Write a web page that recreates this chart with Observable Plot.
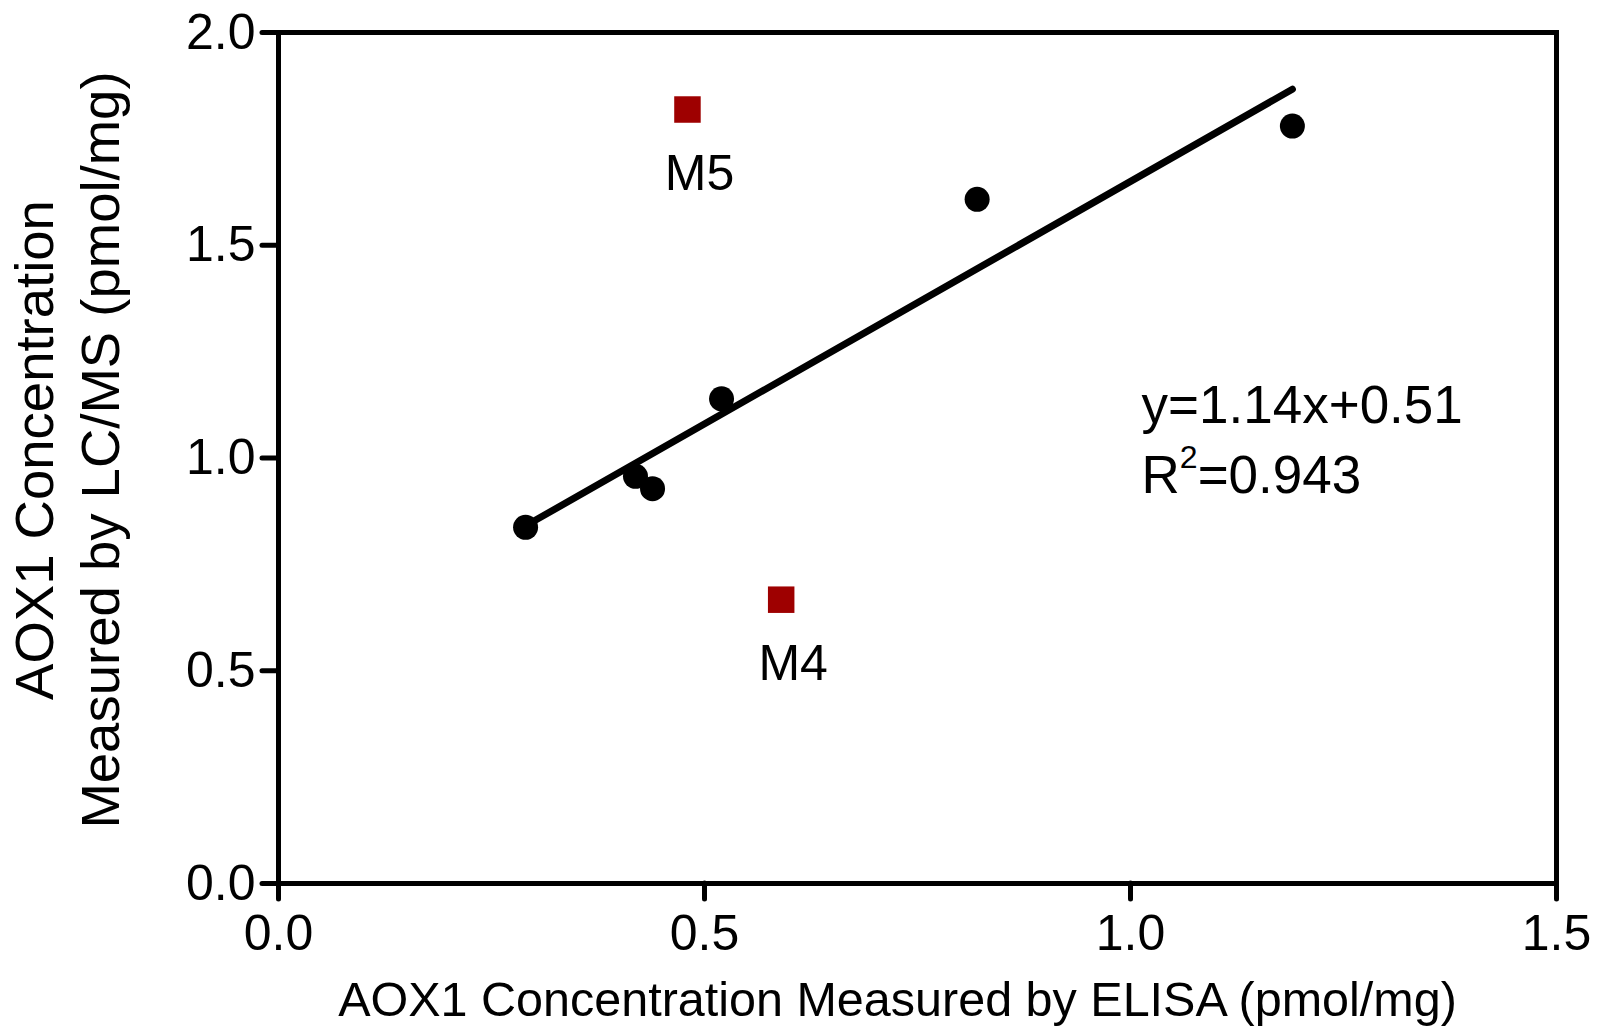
<!DOCTYPE html>
<html><head><meta charset="utf-8">
<script src="https://cdn.jsdelivr.net/npm/d3@7"></script>
<script src="https://cdn.jsdelivr.net/npm/@observablehq/plot@0.6"></script>
<style>
html,body{margin:0;padding:0;background:#fff;}
#chart svg{display:block;}
#chart text{font-family:"Liberation Sans",Arial,sans-serif;}
</style></head><body><div id="chart"></div>
<script>
// black points (ELISA vs LC/MS)
const elisa = [0.290, 0.419, 0.439, 0.520, 0.820, 1.190];
const lcms  = [0.837, 0.957, 0.928, 1.139, 1.608, 1.780];
// outlier samples (red squares)
const outlierNames = ["M5", "M4"];
const outlierElisa = [0.480, 0.590];
const outlierLcms  = [1.819, 0.667];
// ticks
const xTicks = [0, 0.5, 1.0, 1.5];
const yTicks = [0, 0.5, 1.0, 1.5, 2.0];
// texts
const xTitle = "AOX1 Concentration Measured by ELISA (pmol/mg)";
const yTitleLines = ["AOX1 Concentration", "Measured by LC/MS (pmol/mg)"];
const slope = 1.14, intercept = 0.51, r2 = 0.943;
const eqLines = ["y=1.14x+0.51", "R2=0.943"];
const eqX = 1.013, eqY = 1.083;

const pts = elisa.map((x, i) => ({x, y: lcms[i]}));
const outliers = outlierNames.map((name, i) => ({name, x: outlierElisa[i], y: outlierLcms[i]}));
const fitLine = d3.extent(elisa).map(x => ({x, y: slope * x + intercept}));

const plot = Plot.plot({
  width: 1598,
  height: 1029,
  marginLeft: 278,
  marginRight: 42,
  marginTop: 32,
  marginBottom: 146,
  style: {fontSize: "50px", fontFamily: "Liberation Sans, Arial, sans-serif", background: "#fff", overflow: "visible"},
  x: {domain: [0, 1.5]},
  y: {domain: [0, 2.0]},
  marks: [
    Plot.axisX({ticks: xTicks, tickFormat: d3.format(".1f"), tickSize: 16, tickPadding: 15, strokeWidth: 5, strokeLinecap: "round", label: null}),
    Plot.axisY({ticks: yTicks, tickFormat: d3.format(".1f"), tickSize: 16, tickPadding: 7, strokeWidth: 5, strokeLinecap: "round", label: null}),
    Plot.frame({stroke: "black", strokeWidth: 5}),
    Plot.line(fitLine, {x: "x", y: "y", stroke: "black", strokeWidth: 7, strokeLinecap: "round"}),
    Plot.dot(pts, {x: "x", y: "y", r: 12.5, fill: "black", stroke: "none"}),
    Plot.dot(outliers, {x: "x", y: "y", symbol: "square", r: 14.95, fill: "#9e0000", stroke: "none"}),
    Plot.text(outliers, {x: "x", y: "y", text: "name", dx: 12, dy: 80, lineAnchor: "bottom", fontSize: 50, fill: "black"}),
    Plot.text([eqLines[0]], {x: () => eqX, y: () => eqY, text: d => d, textAnchor: "start", lineAnchor: "bottom", fontSize: 53, fill: "black"}),
    Plot.text([eqLines[1]], {x: () => eqX, y: () => eqY, text: d => d, textAnchor: "start", lineAnchor: "bottom", dy: 70, fontSize: 53, fill: "black"}),
    Plot.text([xTitle], {frameAnchor: "bottom", text: d => d, dx: -20, dy: 132, lineAnchor: "bottom", fontSize: 48.5, fill: "black"}),
    Plot.text([yTitleLines.join("\n")], {frameAnchor: "left", text: d => d, rotate: -90, dx: -214, dy: -8, lineHeight: 1.21, lineAnchor: "middle", textAnchor: "middle", fontSize: 54.5, fill: "black"})
  ]
});
document.getElementById("chart").appendChild(plot);

// proper superscript for R²
d3.select(plot).selectAll("text").each(function() {
  if (this.textContent === eqLines[1]) {
    const t = d3.select(this);
    t.text(null);
    t.append("tspan").text("R");
    t.append("tspan").attr("dy", "-25px").style("font-size", "32px").text("2");
    t.append("tspan").attr("dy", "25px").text("=" + r2.toFixed(3));
  }
});
</script>
</body></html>
